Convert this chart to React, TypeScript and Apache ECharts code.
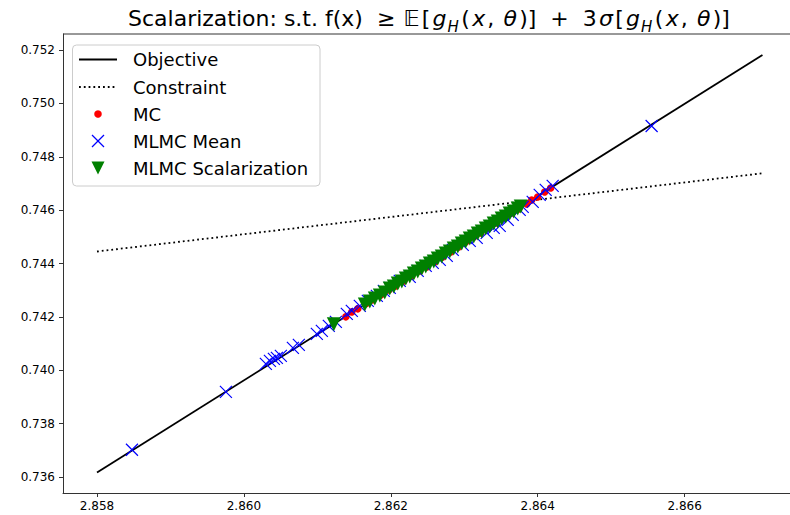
import React, { useEffect, useRef } from "react";
import * as echarts from "echarts";

const objectiveX = [2.858, 2.86706];
const objectiveY = [0.73617, 0.75181];
const constraintX = [2.858, 2.86706];
const constraintY = [0.74445, 0.74738];

const mcX = [2.861388, 2.861469, 2.861551, 2.86166, 2.861755, 2.861864, 2.861973, 2.862068, 2.862177, 2.862286, 2.862395, 2.86249, 2.862599, 2.862707, 2.862816, 2.862925, 2.86302, 2.863129, 2.863224, 2.863333, 2.863442, 2.863551, 2.863646, 2.863741, 2.86385, 2.863918, 2.864, 2.864095, 2.864177];
const mcY = [0.742, 0.742187, 0.7423, 0.742487, 0.742637, 0.742824, 0.743011, 0.743161, 0.743348, 0.743536, 0.743723, 0.743873, 0.74406, 0.744247, 0.744434, 0.744622, 0.744809, 0.744996, 0.745146, 0.745333, 0.745521, 0.745708, 0.745895, 0.746045, 0.746232, 0.746382, 0.746494, 0.746682, 0.746831];

const meanX = [2.858476, 2.859755, 2.860299, 2.860354, 2.860408, 2.860449, 2.860503, 2.860667, 2.860748, 2.860993, 2.861061, 2.861156, 2.861252, 2.861401, 2.861469, 2.861578, 2.861687, 2.86181, 2.861905, 2.861986, 2.862122, 2.862258, 2.862367, 2.862476, 2.862571, 2.862667, 2.862762, 2.862844, 2.86298, 2.863075, 2.86317, 2.863306, 2.863401, 2.863483, 2.863592, 2.86366, 2.863755, 2.863796, 2.863932, 2.864027, 2.864109, 2.864204, 2.865551];
const meanY = [0.737019, 0.739191, 0.74024, 0.740352, 0.740427, 0.740464, 0.740539, 0.740839, 0.740951, 0.741363, 0.741476, 0.741663, 0.741813, 0.742113, 0.742225, 0.742412, 0.742599, 0.742787, 0.742974, 0.743086, 0.743348, 0.743498, 0.743723, 0.74391, 0.744023, 0.744135, 0.744285, 0.744509, 0.744697, 0.744847, 0.744959, 0.745146, 0.745333, 0.745408, 0.745633, 0.74582, 0.746008, 0.74612, 0.746307, 0.746569, 0.746757, 0.746906, 0.749154];

const scalX = [2.861224, 2.861646, 2.861714, 2.861782, 2.86185, 2.861918, 2.861986, 2.862041, 2.862095, 2.86215, 2.862204, 2.862258, 2.862313, 2.862367, 2.862422, 2.862476, 2.862531, 2.862585, 2.862639, 2.862694, 2.862748, 2.862803, 2.862857, 2.862912, 2.862966, 2.86302, 2.863075, 2.863129, 2.863184, 2.863238, 2.863293, 2.863347, 2.863401, 2.863456, 2.86351, 2.863565, 2.863619, 2.863673, 2.863728, 2.863769];
const scalY = [0.741719, 0.742468, 0.74258, 0.742693, 0.742805, 0.742917, 0.743067, 0.743142, 0.743254, 0.743329, 0.743442, 0.743517, 0.743629, 0.743704, 0.743816, 0.743891, 0.744003, 0.744078, 0.744191, 0.744266, 0.744378, 0.744453, 0.744565, 0.74464, 0.744752, 0.744827, 0.74494, 0.745015, 0.745127, 0.745202, 0.745314, 0.745389, 0.745502, 0.745576, 0.745689, 0.745764, 0.745876, 0.745951, 0.746063, 0.746138];

const xTicks = [2.858, 2.86, 2.862, 2.864, 2.866];
const yTicks = [0.736, 0.738, 0.74, 0.742, 0.744, 0.746, 0.748, 0.75, 0.752];

const legendNames = ["Objective", "Constraint", "MC", "MLMC Mean", "MLMC Scalarization"];

const FONT = "DejaVu Sans";
const zip = (a: number[], b: number[]) => a.map((v, i) => [v, b[i]]);

export default function App() {
  const ref = useRef<HTMLDivElement>(null);
  useEffect(() => {
    document.body.style.margin = "0";
    const chart = echarts.init(ref.current!, null, { renderer: "svg" });
    const legendX = 98;
    const legendYs = [59.5, 87, 114, 141, 168];
    const legendEls: any[] = [
      {
        type: "rect",
        shape: { x: 72.5, y: 45, width: 247.5, height: 141, r: 4 },
        style: { fill: "rgba(255,255,255,0.8)", stroke: "#cccccc", lineWidth: 1 },
        z: 100,
      },
      {
        type: "line",
        shape: { x1: 79, y1: legendYs[0], x2: 117, y2: legendYs[0] },
        style: { stroke: "#000", lineWidth: 1.8 },
        z: 101,
      },
      {
        type: "line",
        shape: { x1: 79, y1: legendYs[1], x2: 117, y2: legendYs[1] },
        style: { stroke: "#000", lineWidth: 1.8, lineDash: [1.8, 3] },
        z: 101,
      },
      {
        type: "circle",
        shape: { cx: legendX, cy: legendYs[2], r: 3.8 },
        style: { fill: "#ff0000" },
        z: 101,
      },
      {
        type: "line",
        shape: { x1: legendX - 6, y1: legendYs[3] - 6, x2: legendX + 6, y2: legendYs[3] + 6 },
        style: { stroke: "#0000ff", lineWidth: 1.2 },
        z: 101,
      },
      {
        type: "line",
        shape: { x1: legendX - 6, y1: legendYs[3] + 6, x2: legendX + 6, y2: legendYs[3] - 6 },
        style: { stroke: "#0000ff", lineWidth: 1.2 },
        z: 101,
      },
      {
        type: "polygon",
        shape: {
          points: [
            [legendX - 6.5, legendYs[4] - 6.5],
            [legendX + 6.5, legendYs[4] - 6.5],
            [legendX, legendYs[4] + 6.5],
          ],
        },
        style: { fill: "#008000" },
        z: 101,
      },
      ...legendNames.map((n, i) => ({
        type: "text",
        x: 133,
        y: legendYs[i],
        style: {
          text: n,
          fill: "#000",
          font: `18px '${FONT}'`,
          textAlign: "left",
          textVerticalAlign: "middle",
          align: "left",
          verticalAlign: "middle",
        },
        z: 102,
      })),
    ];

    const base = { fontFamily: FONT, fontSize: 22, color: "#000", lineHeight: 32 };
    const mathN = { ...base, padding: [0, 1.1] };
    const ital = { ...base, fontStyle: "italic", padding: [0, 1.1] };
    const sub = { fontFamily: FONT, fontSize: 15, fontStyle: "italic", color: "#000", lineHeight: 19, verticalAlign: "bottom", padding: [0, 1.5, 0, 0] };

    chart.setOption({
      animation: false,
      backgroundColor: "#fff",
      grid: { left: 63, top: 34, right: 0, bottom: 22, containLabel: false },
      xAxis: {
        type: "value",
        min: 2.857537,
        max: 2.867435,
        axisLine: { show: true, onZero: false, lineStyle: { color: "#333", width: 1 } },
        axisTick: { show: true, length: 4, customValues: xTicks, lineStyle: { color: "#333", width: 1 } },
        axisLabel: {
          customValues: xTicks,
          formatter: (v: number) => v.toFixed(3),
          fontFamily: FONT,
          fontSize: 12,
          color: "#000",
          margin: 7,
        },
        splitLine: { show: false },
      },
      yAxis: {
        type: "value",
        min: 0.7354,
        max: 0.7526,
        axisLine: { show: true, onZero: false, lineStyle: { color: "#333", width: 1 } },
        axisTick: { show: true, length: 4, customValues: yTicks, lineStyle: { color: "#333", width: 1 } },
        axisLabel: {
          customValues: yTicks,
          formatter: (v: number) => v.toFixed(3),
          fontFamily: FONT,
          fontSize: 12,
          color: "#000",
          margin: 8,
        },
        splitLine: { show: false },
      },
      series: [
        {
          name: "Objective",
          type: "line",
          data: zip(objectiveX, objectiveY),
          symbol: "none",
          lineStyle: { color: "#000", width: 1.8 },
          z: 1,
        },
        {
          name: "Constraint",
          type: "line",
          data: zip(constraintX, constraintY),
          symbol: "none",
          lineStyle: { color: "#000", width: 1.8, type: [1.8, 3], cap: "butt" },
          z: 2,
        },
        {
          name: "MC",
          type: "scatter",
          data: zip(mcX, mcY),
          symbol: "circle",
          symbolSize: 7.5,
          itemStyle: { color: "#ff0000", opacity: 1 },
          z: 3,
        },
        {
          name: "MLMC Mean",
          type: "scatter",
          data: zip(meanX, meanY),
          symbol: "path://M0,0L10,10M10,0L0,10",
          symbolSize: 12,
          itemStyle: { color: "#0000ff", borderColor: "#0000ff", borderWidth: 1.2, opacity: 1 },
          z: 4,
        },
        {
          name: "MLMC Scalarization",
          type: "scatter",
          data: zip(scalX, scalY),
          symbol: "path://M0,0L10,0L5,10Z",
          symbolSize: 14,
          itemStyle: { color: "#008000", opacity: 1 },
          z: 5,
        },
      ],
      graphic: [
        {
          type: "line",
          shape: { x1: 63, y1: 34, x2: 790, y2: 34 },
          style: { stroke: "#333", lineWidth: 1 },
          z: 50,
        },
        {
          type: "text",
          x: 429.5,
          y: 18,
          style: {
            text:
              "{n|Scalarization: s.t. f(x)  ≥ }{m|𝔼}{m|[}{i|g}{s|H}{m|(}{i|x}{m|, }{i|θ}{m|)]  +  3}{i|σ}{m|[}{i|g}{s|H}{m|(}{i|x}{m|, }{i|θ}{m|)]}",
            rich: { n: base, m: mathN, i: ital, s: sub },
            textAlign: "center",
            textVerticalAlign: "middle",
            align: "center",
            verticalAlign: "middle",
            fill: "#000",
          },
          z: 60,
        },
        ...legendEls,
      ],
    });
    return () => chart.dispose();
  }, []);
  return <div ref={ref} style={{ width: 790, height: 515 }} />;
}
